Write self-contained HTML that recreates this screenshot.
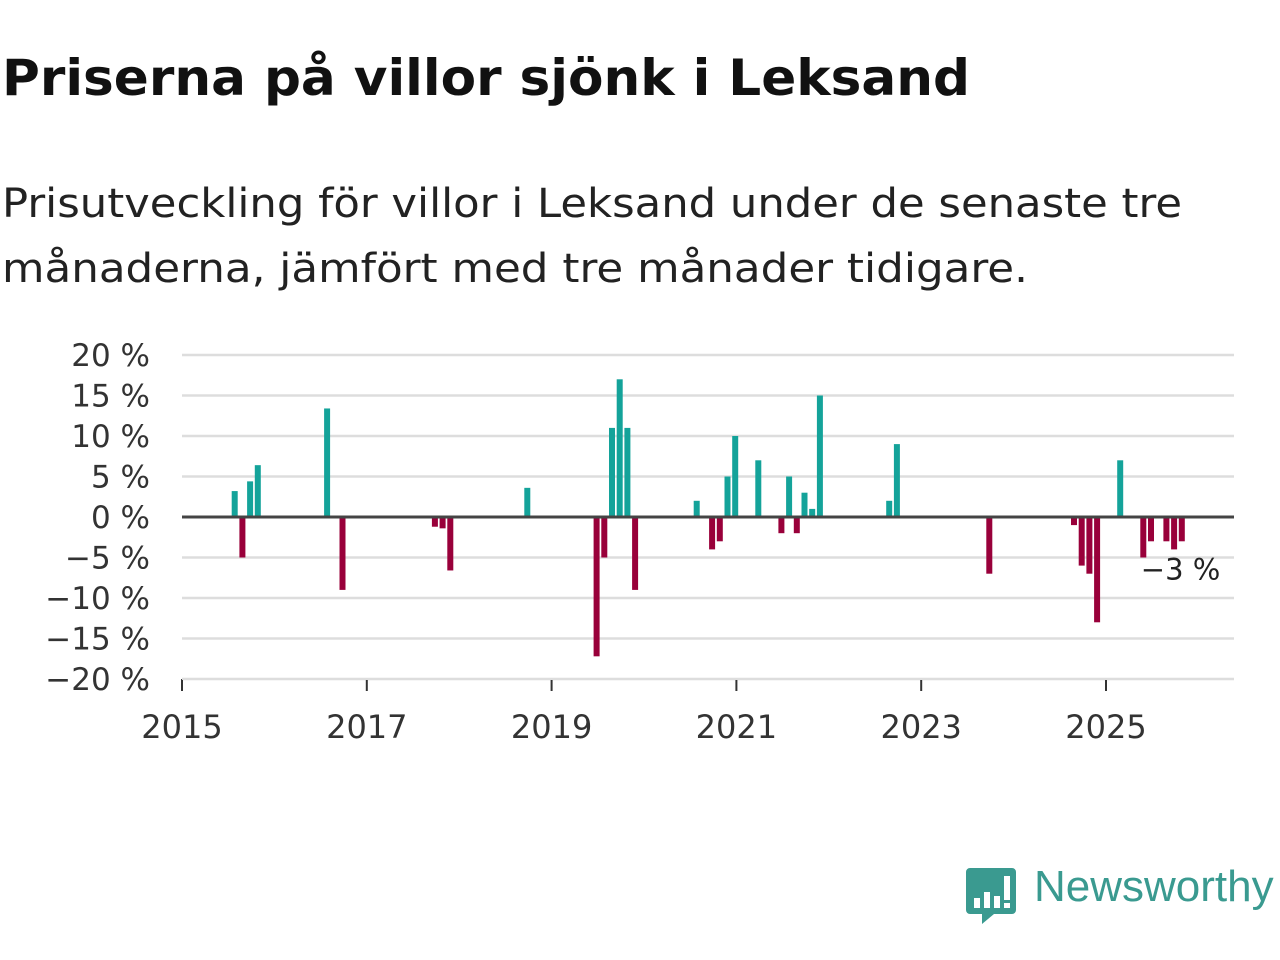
<!DOCTYPE html>
<html><head><meta charset="utf-8">
<style>
body{margin:0;width:1280px;height:960px;background:#fff;overflow:hidden;font-family:"DejaVu Sans","Liberation Sans",sans-serif;}
.fit{position:absolute;left:2px;white-space:nowrap;transform-origin:0 0;margin:0}
#title{top:49px;font-size:50px;font-weight:bold;color:#111;}
.sub{font-size:40px;color:#222;}
svg{position:absolute;left:0;top:0}
</style></head><body>
<h1 id="title" class="fit" data-w="968">Priserna på villor sjönk i Leksand</h1>
<p class="fit sub" style="top:181px" data-w="1180">Prisutveckling för villor i Leksand under de senaste tre</p>
<p class="fit sub" style="top:246px" data-w="1026">månaderna, jämfört med tre månader tidigare.</p>
<svg id="chart" width="1280" height="960"></svg>
<script>
const months = [6,7,8,9,18,20,32,33,34,44,53,54,55,56,57,58,66,68,69,70,71,74,77,78,79,80,81,82,91,92,104,115,116,117,118,121,124,125,127,128,129];
const values = [3.2,-5,4.4,6.4,13.4,-9,-1.2,-1.4,-6.6,3.6,-17.2,-5,11,17,11,-9,2,-4,-3,5,10,7,-2,5,-2,3,1,15,2,9,-7,-1,-6,-7,-13,7,-5,-3,-3,-4,-3];
const yTicks = [20,15,10,5,0,-5,-10,-15,-20];
const yTickLabels = ["20 %","15 %","10 %","5 %","0 %","−5 %","−10 %","−15 %","−20 %"];
const xTicks = [2015,2017,2019,2021,2023,2025];
const lastLabel = "−3 %";
document.querySelectorAll('.fit').forEach(e=>{const w=e.getBoundingClientRect().width;e.style.transform='scaleX('+(+e.dataset.w/w)+')';});
const NS="http://www.w3.org/2000/svg";
const svg=document.getElementById('chart');
const x0=182,x1=1234,mw=7.7;
function xScale(m){return x0+m*mw;}
function yScale(v){return 517-v*8.1;}
function mk(t,a){const e=document.createElementNS(NS,t);for(const k in a)e.setAttribute(k,a[k]);svg.appendChild(e);return e;}
yTicks.forEach((t,i)=>{
  if(t!==0){const g=mk('line',{x1:x0,x2:x1,y1:yScale(t),y2:yScale(t),stroke:'#ddd','stroke-width':2.5});
  
  }
  const l=mk('text',{x:150,y:yScale(t)+11,'text-anchor':'end','font-size':31,fill:'#333'});
  l.textContent=yTickLabels[i];
  
  
});
xTicks.forEach(y=>{
  const m=(y-2015)*12;
  const t=mk('line',{x1:xScale(m),x2:xScale(m),y1:679,y2:691,stroke:'#333','stroke-width':2});
  
  
  const l=mk('text',{x:xScale(m),y:738,'text-anchor':'middle','font-size':32,fill:'#333'});
  l.textContent=y;
  
  
});
const ax=mk('line',{x1:x0,x2:x1,y1:679,y2:679,stroke:'#ddd','stroke-width':2});


months.forEach((m,i)=>{
  const v=values[i];
  const y=Math.min(yScale(v),yScale(0));
  const h=Math.abs(yScale(v)-yScale(0));
  const b=mk('rect',{x:xScale(m)+3.5,y:y,width:6,height:h,fill:v>=0?'#14a39a':'#99003a'});
  
  
});
const zl=mk('line',{x1:x0,x2:x1,y1:yScale(0),y2:yScale(0),stroke:'#444','stroke-width':3});


const lm=months[months.length-1];
const lab=mk('text',{x:xScale(lm)+45,y:yScale(values[values.length-1])+38,'text-anchor':'end','font-size':29,fill:'#222'});
lab.textContent=lastLabel;


</script>
<svg width="60" height="70" style="left:962px;top:862px">
<path d="M8 6 H50 a4 4 0 0 1 4 4 V48 a4 4 0 0 1 -4 4 H32 L20 62 L20 52 H8 a4 4 0 0 1 -4 -4 V10 a4 4 0 0 1 4 -4Z" fill="#3a9a90"/>
<rect x="12" y="36" width="6" height="10" fill="#fff"/><rect x="22" y="30" width="6" height="16" fill="#fff"/><rect x="32" y="34" width="6" height="12" fill="#fff"/><rect x="42" y="14" width="6" height="24" fill="#fff"/><rect x="42" y="41" width="6" height="5" fill="#fff"/>
</svg>
<div style="position:absolute;left:1034px;top:862px;font-size:44px;color:#3a9a90;font-family:'Liberation Sans',sans-serif;">Newsworthy</div>
</body></html>
